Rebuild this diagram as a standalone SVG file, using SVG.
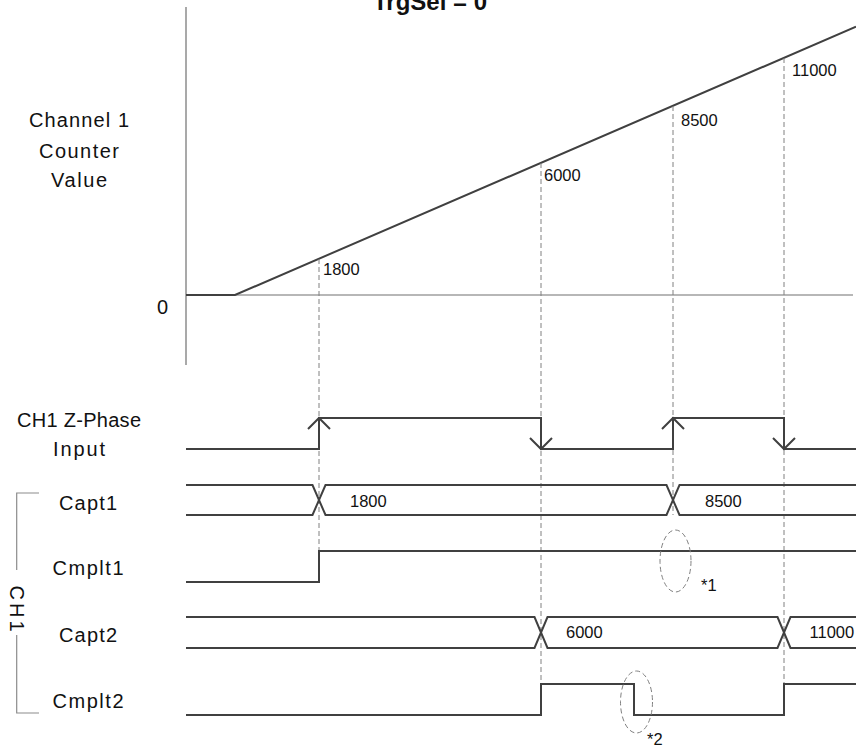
<svg xmlns="http://www.w3.org/2000/svg" width="856" height="751" viewBox="0 0 856 751">
<style>
.bg{fill:#ffffff}
.axis{stroke:#707070;stroke-width:1.2;fill:none}
.sig{stroke:#404040;stroke-width:2;fill:none;stroke-linejoin:miter}
.dash{stroke:#808080;stroke-width:1;fill:none;stroke-dasharray:5,3}
.brk{stroke:#8c8c8c;stroke-width:1.2;fill:none}
text{font-family:"Liberation Sans",Arial,sans-serif;fill:#111111}
.lbl{font-size:20px}
.num{font-size:16.5px}
.mid{text-anchor:middle}
.title{font-size:24px;font-weight:bold}
</style>
<rect class="bg" x="0" y="0" width="856" height="751"/>

<g id="title">
<text class="title mid" x="430" y="10">TrgSel = 0</text>
</g>

<g id="counter-chart">
<line class="axis" x1="186" y1="7" x2="186" y2="365"/>
<line class="axis" x1="186" y1="295" x2="853" y2="295"/>
<polyline class="sig" points="186,295 235,295 856,26.7"/>
<text class="lbl mid" x="79" y="127" textLength="100" lengthAdjust="spacing">Channel 1</text>
<text class="lbl mid" x="79" y="158" textLength="80" lengthAdjust="spacing">Counter</text>
<text class="lbl mid" x="79" y="187" textLength="56" lengthAdjust="spacing">Value</text>
<text class="lbl" x="157" y="314">0</text>
<text class="num" x="323" y="275">1800</text>
<text class="num" x="544" y="181">6000</text>
<text class="num" x="681" y="126">8500</text>
<text class="num" x="792" y="76">11000</text>
</g>

<g id="connectors">
<line class="dash" x1="319" y1="259" x2="319" y2="551"/>
<line class="dash" x1="541" y1="163" x2="541" y2="684"/>
<line class="dash" x1="673" y1="106" x2="673" y2="515"/>
<line class="dash" x1="784" y1="58" x2="784" y2="684"/>
</g>

<g id="z-phase">
<text class="lbl mid" x="79" y="427" textLength="124" lengthAdjust="spacing">CH1 Z-Phase</text>
<text class="lbl mid" x="79" y="456" textLength="52" lengthAdjust="spacing">Input</text>
<polyline class="sig" points="186,449 319,449 319,418 541,418 541,449 673,449 673,418 784,418 784,449 856,449"/>
<polyline class="sig" points="308,429 319,418 330,429"/>
<polyline class="sig" points="662,429 673,418 684,429"/>
<polyline class="sig" points="530,438 541,449 552,438"/>
<polyline class="sig" points="773,438 784,449 795,438"/>
</g>

<g id="capt1">
<text class="lbl mid" x="88" y="510" textLength="58" lengthAdjust="spacing">Capt1</text>
<path class="sig" d="M186,485 H312.5 L325.5,515 H666.5 L679.5,485 H856"/>
<path class="sig" d="M186,515 H312.5 L325.5,485 H666.5 L679.5,515 H856"/>
<text class="num" x="350" y="507">1800</text>
<text class="num" x="705" y="507">8500</text>
</g>

<g id="cmplt1">
<text class="lbl mid" x="88" y="575" textLength="71" lengthAdjust="spacing">Cmplt1</text>
<path class="sig" d="M186,582 H319 V551 H856"/>
<ellipse class="dash" cx="675.5" cy="561" rx="15.5" ry="31"/>
<text class="num" x="701" y="591">*1</text>
</g>

<g id="capt2">
<text class="lbl mid" x="88" y="642" textLength="58" lengthAdjust="spacing">Capt2</text>
<path class="sig" d="M186,617 H534.5 L547.5,648 H777.5 L790.5,617 H856"/>
<path class="sig" d="M186,648 H534.5 L547.5,617 H777.5 L790.5,648 H856"/>
<text class="num" x="566" y="638">6000</text>
<text class="num" x="809.5" y="638">11000</text>
</g>

<g id="cmplt2">
<text class="lbl mid" x="88" y="708" textLength="71" lengthAdjust="spacing">Cmplt2</text>
<path class="sig" d="M186,715 H541 V684 H634 V715 H784 V684 H856"/>
<ellipse class="dash" cx="636.5" cy="702" rx="16" ry="31"/>
<text class="num" x="647" y="745">*2</text>
</g>

<g id="ch1-bracket">
<path class="brk" d="M39,493 H16.7 V570"/>
<path class="brk" d="M16.7,635 V713 H39"/>
<text class="lbl mid" transform="translate(9.5,608.5) rotate(90)" x="0" y="0" textLength="46" lengthAdjust="spacing">CH1</text>
</g>
</svg>
